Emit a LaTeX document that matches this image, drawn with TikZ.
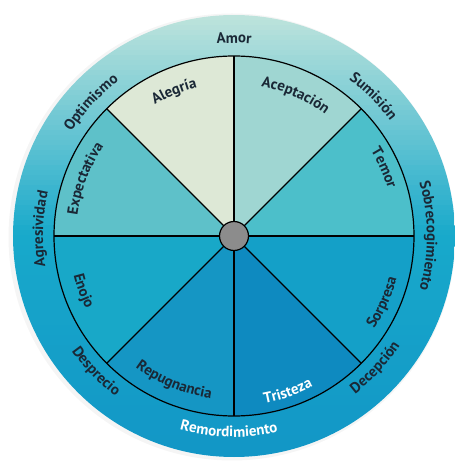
\documentclass[tikz,border=0pt]{standalone}
\usepackage{fontspec}
\setmainfont{PT Sans}
\usetikzlibrary{decorations.text}
\definecolor{ringtop}{HTML}{C0E4DC}
\definecolor{ringmid}{HTML}{18A9CB}
\definecolor{ringbot}{HTML}{1296C6}
\definecolor{alegria}{HTML}{DDE8D6}
\definecolor{aceptacion}{HTML}{9FD6D2}
\definecolor{temor}{HTML}{4CBFCA}
\definecolor{expect}{HTML}{5EC1C9}
\definecolor{enojo}{HTML}{18A8C8}
\definecolor{sorpresa}{HTML}{14A0C8}
\definecolor{repug}{HTML}{1596C4}
\definecolor{tristeza}{HTML}{0E8AC0}
\definecolor{txt}{HTML}{1A2836}
\definecolor{hub}{HTML}{8C8C8C}
\newcommand\cwlab[5]{% angle, baseline radius, half span, size, text
  \path[decorate, decoration={text along path, text align=center,
    text={|\bfseries\fontsize{#4}{#4}\selectfont\color{txt}|#5}}]
    (#1+#3:#2) arc[start angle=#1+#3, end angle=#1-#3, radius=#2];}
\newcommand\ccwlab[6]{% angle, baseline radius, half span, size, colour, text
  \path[decorate, decoration={text along path, text align=center,
    text={|\bfseries\fontsize{#4}{#4}\selectfont\color{#5}|#6}}]
    (#1-#3:#2) arc[start angle=#1-#3, end angle=#1+#3, radius=#2];}
\tikzset{divider/.style={line width=1.2pt, draw=black}}
\begin{document}
\begin{tikzpicture}[x=1pt,y=1pt]
\useasboundingbox (-234,-226) rectangle (220,236);
% soft shadow
\fill[black, opacity=0.04] (-2,-1) circle (223.5);
% outer ring as horizontal colour strips
\begin{scope}
\clip (0,0) circle (221);
\foreach \i in {0,...,89} {
  \pgfmathsetmacro\yy{221-5*\i}
  \pgfmathtruncatemacro\pp{min(100,abs(\yy-2.5)/2.21)}
  \pgfmathtruncatemacro\up{(\yy-2.5)>0}
  \ifnum\up=1 \colorlet{strip}{ringtop!\pp!ringmid}\else\colorlet{strip}{ringbot!\pp!ringmid}\fi
  \fill[strip] (-222,\yy+0.3) rectangle (222,\yy-5.3);
}
\end{scope}
% sectors
\foreach \a/\c in {90/alegria, 45/aceptacion, 0/temor, -45/sorpresa, -90/tristeza, -135/repug, 180/enojo, 135/expect}
  \fill[\c] (0,0) -- (\a:180) arc[start angle=\a, delta angle=45, radius=180] -- cycle;
\foreach \a in {0,45,...,315}
  \draw[divider] (0,0) -- (\a:180);
\draw[divider] (0,0) circle (180);
\filldraw[fill=hub, draw=black, line width=1.2pt] (0,0) circle (14.5);
% outer labels
\cwlab{90}{193}{45}{15}{Amor}
\cwlab{45}{194}{45}{15}{Sumisión}
\cwlab{0}{193}{45}{15}{Sobrecogimiento}
\cwlab{137}{193}{45}{15}{Optimismo}
\cwlab{178}{191}{45}{15}{Agresividad}
\ccwlab{-43}{199}{45}{15}{txt}{Decepción}
\ccwlab{-91.5}{201}{45}{15}{white}{Remordimiento}
\ccwlab{-135.6}{199}{45}{15}{txt}{Desprecio}
% inner labels
\cwlab{112.5}{153}{45}{15}{Alegría}
\cwlab{66.4}{152}{45}{15}{Aceptación}
\cwlab{24.5}{161}{45}{15}{Temor}
\cwlab{159}{158}{45}{15}{Expectativa}
\ccwlab{-24}{168}{45}{15}{txt}{Sorpresa}
\ccwlab{-71}{170}{45}{15}{white}{Tristeza}
\ccwlab{-112.5}{164}{45}{15}{txt}{Repugnancia}
\ccwlab{-160}{165}{45}{15}{txt}{Enojo}
\end{tikzpicture}
\end{document}
